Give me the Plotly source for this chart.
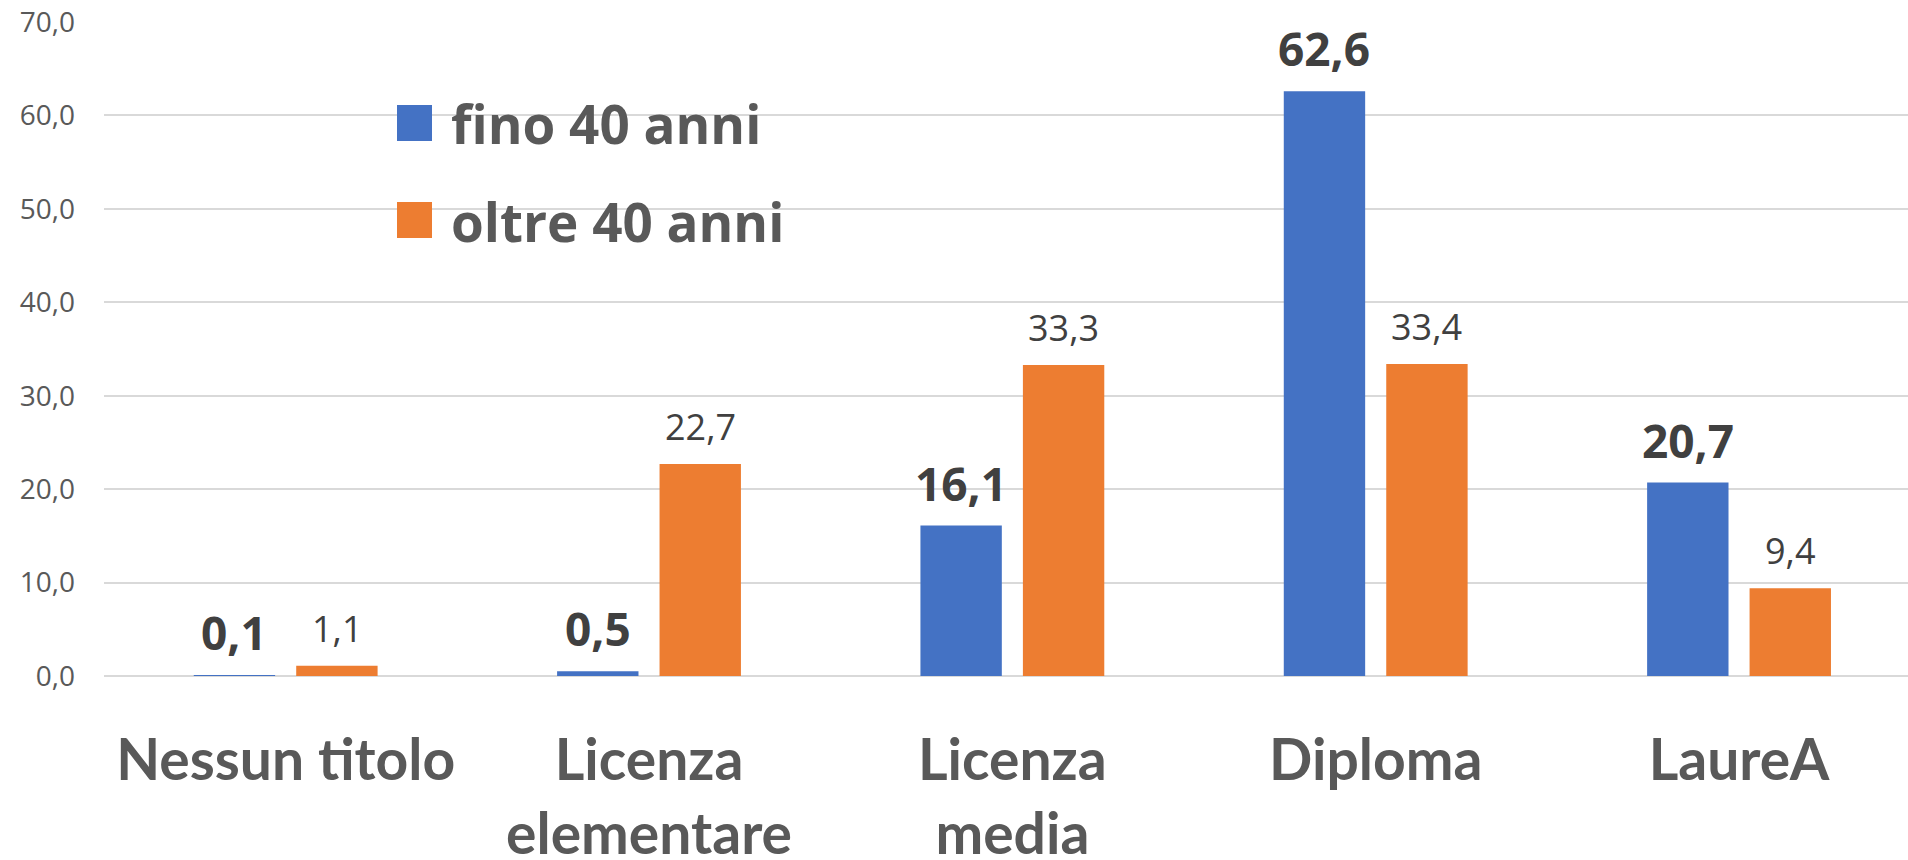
import plotly.graph_objects as go

# ---- data ----
categories = ["Nessun titolo", "Licenza<br>elementare", "Licenza<br>media", "Diploma", "LaureA"]
series_names = ["fino 40 anni", "oltre 40 anni"]
fino_40 = [0.1, 0.5, 16.1, 62.6, 20.7]
oltre_40 = [1.1, 22.7, 33.3, 33.4, 9.4]
y_ticks = [0, 10, 20, 30, 40, 50, 60, 70]

# ---- style ----
BLUE = "#4472C4"
ORANGE = "#ED7D31"
GRID = "#D9D9D9"
TXT = "#595959"
LBL = "#404040"
W, H = 1908, 860
ML, MR, MT, MB = 104, 0, 22, 184
PW, PH = W - ML - MR, H - MT - MB
BAR_W = 0.224
GAP = 0.058

xpos = list(range(len(categories)))


def fmt(v):
    return f"{v:.1f}".replace(".", ",")


fig = go.Figure()
fig.add_trace(go.Bar(
    x=xpos, y=fino_40, width=BAR_W, offset=-(BAR_W + GAP / 2),
    marker=dict(color=BLUE, line=dict(width=0)), name=series_names[0],
    showlegend=False, hoverinfo="skip"))
fig.add_trace(go.Bar(
    x=xpos, y=oltre_40, width=BAR_W, offset=GAP / 2,
    marker=dict(color=ORANGE, line=dict(width=0)), name=series_names[1],
    showlegend=False, hoverinfo="skip"))

annotations = []
shift = (BAR_W + GAP) / 2
for i, v in enumerate(fino_40):
    annotations.append(dict(
        x=i - shift, y=v, xref="x", yref="y", text=fmt(v), showarrow=False,
        xanchor="center", yanchor="bottom", yshift=10,
        font=dict(family="Open Sans", size=46, color=LBL, weight="bold")))
for i, v in enumerate(oltre_40):
    annotations.append(dict(
        x=i + shift, y=v, xref="x", yref="y", text=fmt(v), showarrow=False,
        xanchor="center", yanchor="bottom", yshift=11,
        font=dict(family="Open Sans", size=36, color=LBL)))


# ---- legend (drawn manually to get large swatches) ----
def px_x(p):
    return (p - ML) / PW


def px_y(p):
    return (MT + PH - p) / PH


shapes = []
legend_rows = [(BLUE, series_names[0], 105, 141), (ORANGE, series_names[1], 202, 238)]
for color, name, top, bot in legend_rows:
    shapes.append(dict(type="rect", xref="paper", yref="paper",
                       x0=px_x(397), x1=px_x(432), y0=px_y(bot), y1=px_y(top),
                       fillcolor=color, line=dict(width=0), layer="above"))
    annotations.append(dict(
        x=px_x(449), y=px_y((top + bot) / 2 + 1), xref="paper", yref="paper",
        text=name, showarrow=False, xanchor="left", yanchor="middle",
        font=dict(family="Open Sans", size=53, color=TXT, weight="bold")))

fig.update_layout(
    width=W, height=H,
    margin=dict(l=ML, r=MR, t=MT, b=MB, pad=0, autoexpand=False),
    paper_bgcolor="white", plot_bgcolor="white",
    separators=",.",
    barmode="overlay",
    showlegend=False,
    shapes=shapes,
    annotations=annotations,
    xaxis=dict(
        range=[-0.5, 4.465], tickmode="array", tickvals=xpos, ticktext=categories,
        tickfont=dict(family="Lato", size=57, color=TXT, weight="bold"),
        showgrid=False, zeroline=False, showline=False, ticks="",
        ticklabelstandoff=46, fixedrange=True, automargin=False),
    yaxis=dict(
        range=[0, 70], tickmode="array", tickvals=y_ticks, tickformat=".1f",
        tickfont=dict(family="Open Sans", size=28, color=TXT),
        showgrid=True, gridcolor=GRID, gridwidth=1.5,
        zeroline=True, zerolinecolor=GRID, zerolinewidth=1.5,
        showline=False, ticks="", ticklabelstandoff=28, fixedrange=True,
        automargin=False),
)

fig.write_html("out.html", config={"displayModeBar": False},
               post_script="document.body.style.margin='0';document.body.style.overflow='hidden';")
